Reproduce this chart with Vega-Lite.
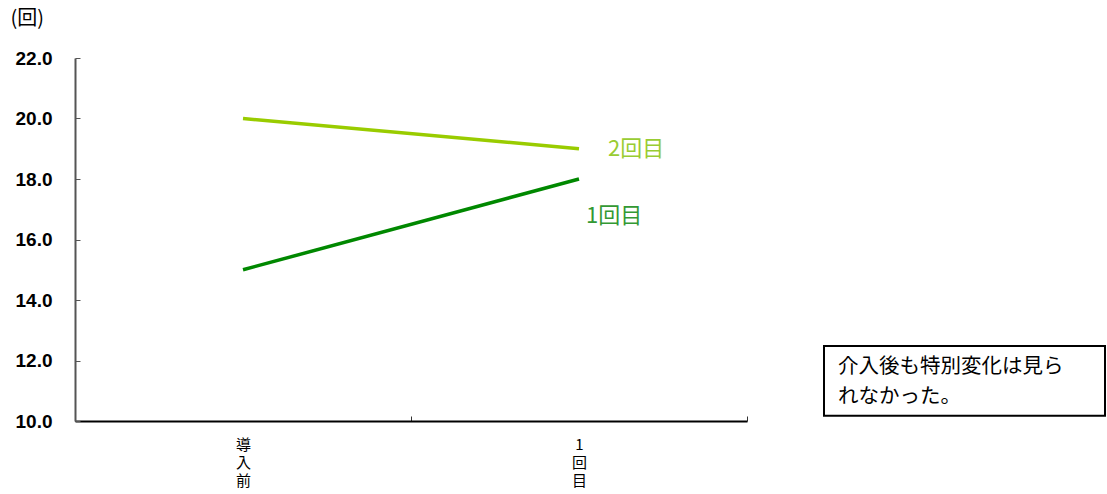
{
  "$schema": "https://vega.github.io/schema/vega-lite/v6.json",
  "padding": {"left": 10, "top": 8, "right": 2, "bottom": 2},
  "background": "white",
  "bounds": "flush",
  "spacing": 77,
  "config": {"view": {"stroke": null}},
  "datasets": {
    "main": [
      {"phase": "導入前", "series": "1回目", "value": 15.0},
      {"phase": "1回目", "series": "1回目", "value": 18.0},
      {"phase": "導入前", "series": "2回目", "value": 20.0},
      {"phase": "1回目", "series": "2回目", "value": 19.0}
    ],
    "note": [
      {"x0": 0, "x1": 1, "y0": 10.17, "y1": 12.48}
    ],
    "noteText": [
      {"x": 0.05, "y": 11.8, "t": "介入後も特別変化は見ら"},
      {"x": 0.05, "y": 10.8, "t": "れなかった。"}
    ]
  },
  "hconcat": [
    {
      "width": 672,
      "height": 363,
      "data": {"name": "main"},
      "layer": [
        {
          "mark": {"type": "line", "strokeWidth": 3.5},
          "encoding": {
            "x": {
              "field": "phase", "type": "nominal", "sort": ["導入前", "1回目"],
              "scale": {"paddingInner": 0, "paddingOuter": 0},
              "axis": {
                "title": null, "labelAngle": 0, "domainColor": "#000000", "domainWidth": 2,
                "tickBand": "extent", "tickSize": -5, "tickColor": "#333333",
                "labelExpr": "split(datum.label, '')",
                "labelFont": "Noto Sans CJK JP", "labelFontSize": 15, "labelColor": "#000000",
                "labelLineHeight": 18, "labelPadding": 21, "labelBaseline": "top"
              }
            },
            "y": {
              "field": "value", "type": "quantitative",
              "scale": {"domain": [10, 22], "nice": false, "zero": false},
              "axis": {
                "values": [10, 12, 14, 16, 18, 20, 22], "format": ".1f", "grid": false,
                "domainColor": "#555555", "domainWidth": 2, "tickSize": -5, "tickColor": "#555555",
                "labelFont": "Liberation Sans", "labelFontWeight": "bold", "labelFontSize": 19,
                "labelColor": "#000000", "labelPadding": 28,
                "title": "(回)", "titleAngle": 0, "titleAlign": "left", "titleBaseline": "middle",
                "titleX": -65, "titleY": -40, "titleFont": "Noto Sans CJK JP",
                "titleFontWeight": "normal", "titleFontSize": 20, "titleColor": "#000000"
              }
            },
            "color": {
              "field": "series", "type": "nominal",
              "scale": {"domain": ["1回目", "2回目"], "range": ["#008800", "#99cc00"]},
              "legend": null
            }
          }
        },
        {
          "transform": [{"filter": "datum.phase === '1回目' && datum.series === '2回目'"}],
          "mark": {"type": "text", "align": "left", "baseline": "middle", "dx": 29, "dy": 0, "font": "Noto Sans CJK JP", "fontSize": 22},
          "encoding": {
            "x": {"field": "phase", "type": "nominal", "sort": ["導入前", "1回目"]},
            "y": {"field": "value", "type": "quantitative"},
            "text": {"field": "series"},
            "color": {"value": "#99cc33"}
          }
        },
        {
          "transform": [{"filter": "datum.phase === '1回目' && datum.series === '1回目'"}],
          "mark": {"type": "text", "align": "left", "baseline": "middle", "dx": 7, "dy": 37, "font": "Noto Sans CJK JP", "fontSize": 22},
          "encoding": {
            "x": {"field": "phase", "type": "nominal", "sort": ["導入前", "1回目"]},
            "y": {"field": "value", "type": "quantitative"},
            "text": {"field": "series"},
            "color": {"value": "#339933"}
          }
        }
      ]
    },
    {
      "width": 281,
      "height": 363,
      "layer": [
        {
          "data": {"name": "note"},
          "mark": {"type": "rect", "fill": "white", "stroke": "#000000", "strokeWidth": 2},
          "encoding": {
            "x": {"field": "x0", "type": "quantitative", "scale": {"domain": [0, 1], "nice": false}, "axis": null},
            "x2": {"field": "x1"},
            "y": {"field": "y0", "type": "quantitative", "scale": {"domain": [10, 22], "nice": false, "zero": false}, "axis": null},
            "y2": {"field": "y1"}
          }
        },
        {
          "data": {"name": "noteText"},
          "mark": {"type": "text", "align": "left", "baseline": "middle", "font": "Noto Sans CJK JP", "fontSize": 20.5, "color": "#000000"},
          "encoding": {
            "x": {"field": "x", "type": "quantitative", "axis": null},
            "y": {"field": "y", "type": "quantitative", "axis": null},
            "text": {"field": "t"}
          }
        }
      ]
    }
  ]
}
